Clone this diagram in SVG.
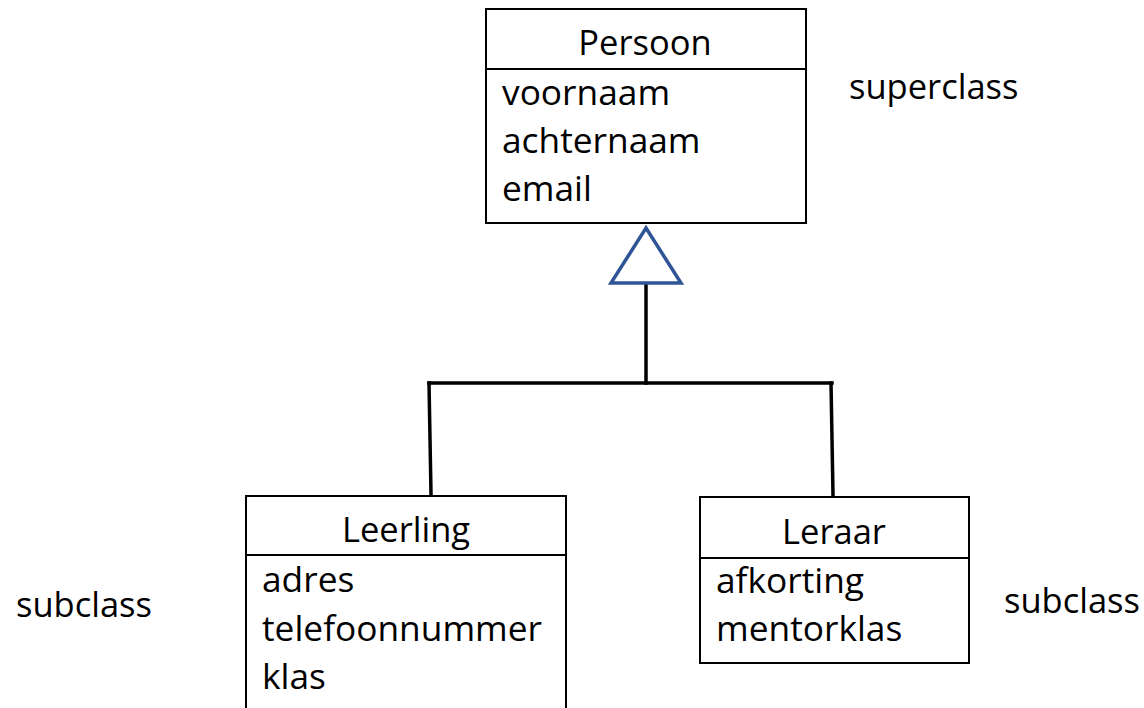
<svg xmlns="http://www.w3.org/2000/svg" width="1144" height="708" viewBox="0 0 1144 708">
  <style>
    text { font-family: "Open Sans", "Noto Sans", "Liberation Sans", sans-serif; font-size: 34.5px; fill: #000; }
    .title { text-anchor: middle; }
    .attr { font-size: 35.3px; }
    .box { fill: #fff; stroke: #000; stroke-width: 2; }
    .divider { stroke: #000; stroke-width: 2; }
    .wire { fill: none; stroke: #000; stroke-width: 3.5; stroke-linecap: square; }
    .gen { fill: #fff; stroke: #2F5597; stroke-width: 3.5; stroke-linejoin: miter; }
  </style>
  <rect width="1144" height="708" fill="#fff"/>

  <!-- generalisation connectors -->
  <g id="connectors">
    <path class="wire" d="M646 284 V383"/>
    <path class="wire" d="M429 383 H832"/>
    <path class="wire" d="M429 383 L431 494"/>
    <path class="wire" d="M831 383 L833 495"/>
    <polygon class="gen" points="646,228 681,283 611,283"/>
  </g>

  <!-- superclass -->
  <g id="persoon">
    <rect class="box" x="486" y="9" width="320" height="214"/>
    <line class="divider" x1="486" y1="69" x2="806" y2="69"/>
    <text class="title" x="645" y="55">Persoon</text>
    <text class="attr" x="502" y="105">voornaam</text>
    <text class="attr" x="502" y="153">achternaam</text>
    <text class="attr" x="502" y="201">email</text>
  </g>

  <!-- subclasses -->
  <g id="leerling">
    <rect class="box" x="246" y="496" width="320" height="230"/>
    <line class="divider" x1="246" y1="555" x2="566" y2="555"/>
    <text class="title" x="406" y="542">Leerling</text>
    <text class="attr" x="262" y="592">adres</text>
    <text class="attr" x="262" y="641">telefoonnummer</text>
    <text class="attr" x="262" y="689">klas</text>
  </g>

  <g id="leraar">
    <rect class="box" x="700" y="497" width="269" height="166"/>
    <line class="divider" x1="700" y1="558" x2="969" y2="558"/>
    <text class="title" x="834" y="544">Leraar</text>
    <text class="attr" x="716" y="593">afkorting</text>
    <text class="attr" x="716" y="641">mentorklas</text>
  </g>

  <!-- role labels -->
  <g id="labels">
    <text x="849" y="99">superclass</text>
    <text x="16" y="617">subclass</text>
    <text x="1004" y="613">subclass</text>
  </g>
</svg>
